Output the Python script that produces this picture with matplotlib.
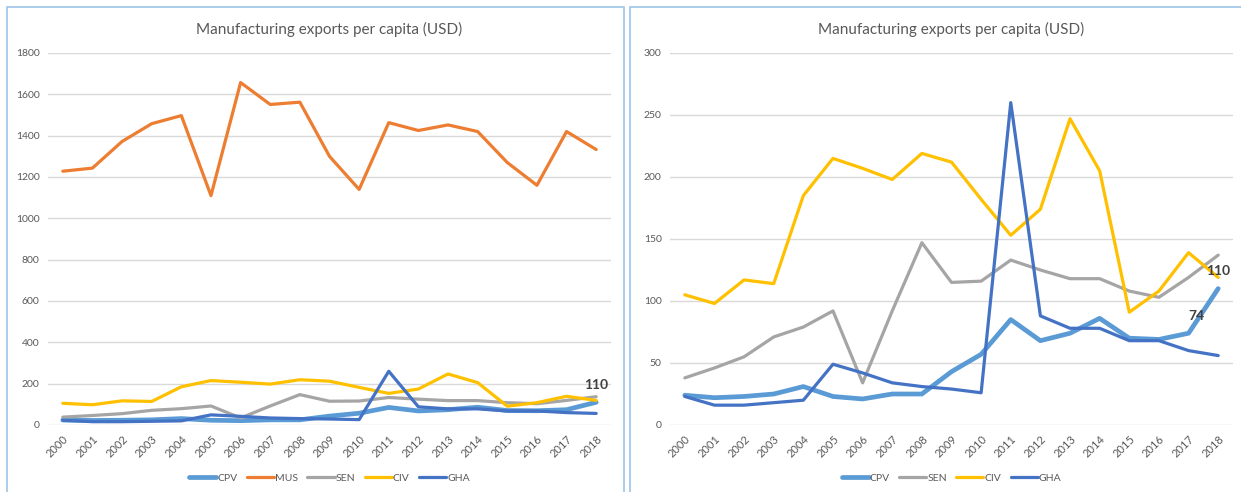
import matplotlib.pyplot as plt
from matplotlib.patches import Rectangle

# Manufacturing exports per capita (USD), 2000-2018
years = [str(y) for y in range(2000, 2019)]
cpv = [24, 22, 23, 25, 31, 23, 21, 25, 25, 43, 57, 85, 68, 74, 86, 70, 69, 74, 110]
mus = [1228, 1243, 1372, 1458, 1497, 1110, 1657, 1551, 1562, 1300, 1140,
       1463, 1425, 1452, 1420, 1270, 1160, 1420, 1333]
sen = [38, 46, 55, 71, 79, 92, 34, 92, 147, 115, 116, 133, 125, 118, 118, 108, 103, 119, 137]
civ = [105, 98, 117, 114, 185, 215, 207, 198, 219, 212, 182, 153, 174, 247, 205, 91, 108, 139, 119]
gha = [23, 16, 16, 18, 20, 49, 42, 34, 31, 29, 26, 260, 88, 78, 78, 68, 68, 60, 56]

colors = {"CPV": "#5B9BD5", "MUS": "#ED7D31", "SEN": "#A5A5A5",
          "CIV": "#FFC000", "GHA": "#4472C4"}
widths = {"CPV": 3.4, "MUS": 2.3, "SEN": 2.3, "CIV": 2.3, "GHA": 2.3}

plt.rcParams['font.family'] = ['Lato', 'DejaVu Sans']
txt = "#595959"

fig = plt.figure(figsize=(12.41, 4.92), dpi=100)
W, H = 1241, 492

# panel borders
for x0, x1 in [(7, 624), (630, 1245)]:
    fig.patches.append(Rectangle((x0 / W, -0.1), (x1 - x0) / W, (H - 7) / H + 0.1,
                                 transform=fig.transFigure, fill=False,
                                 edgecolor="#9DC3E6", lw=1.2))


def draw(ax, series, ymax, step):
    xs = list(range(len(years)))
    for name, vals in series:
        ax.plot(xs, vals, color=colors[name], lw=widths[name], label=name,
                solid_capstyle="round", solid_joinstyle="round")
    ax.set_xlim(-0.5, len(years) - 0.5)
    ax.set_ylim(0, ymax)
    ax.set_yticks(range(0, ymax + 1, step))
    ax.set_xticks(xs)
    ax.set_xticklabels(years, rotation=45, ha="right", va="top",
                       rotation_mode="anchor")
    ax.tick_params(length=0, labelsize=7.5, colors=txt, pad=6)
    ax.tick_params(axis="x", labelsize=8)
    ax.grid(axis="y", color="#D9D9D9", lw=1)
    ax.set_axisbelow(True)
    for s in ax.spines.values():
        s.set_visible(False)
    ax.set_title("Manufacturing exports per capita (USD)", fontsize=11,
                 color=txt, pad=14)
    pos = ax.get_position()
    ax.legend(loc="center", bbox_to_anchor=(pos.x0 + pos.width / 2, 14 / H),
              bbox_transform=fig.transFigure, ncol=len(series),
              frameon=False, fontsize=7.5, handlelength=2.6, handletextpad=0.1,
              columnspacing=0.9, labelcolor=txt)


ax1 = fig.add_axes([48 / W, 67 / H, 563 / W, 372 / H])
draw(ax1, [("CPV", cpv), ("MUS", mus), ("SEN", sen), ("CIV", civ), ("GHA", gha)],
     1800, 200)
ax1.annotate(str(cpv[-1]), (18, cpv[-1]), xytext=(0, 8), textcoords="offset points",
             ha="center", va="bottom", fontsize=10, fontweight="bold", color="#404040")

ax2 = fig.add_axes([670 / W, 67 / H, 563 / W, 372 / H])
draw(ax2, [("CPV", cpv), ("SEN", sen), ("CIV", civ), ("GHA", gha)], 300, 50)
ax2.annotate(str(cpv[-1]), (18, cpv[-1]), xytext=(0, 8), textcoords="offset points",
             ha="center", va="bottom", fontsize=10, fontweight="bold", color="#404040")
ax2.annotate(str(cpv[-2]), (17, cpv[-2]), xytext=(6, 8), textcoords="offset points",
             ha="center", va="bottom", fontsize=10, fontweight="bold", color="#404040")

fig.savefig("out.png", dpi=100)
